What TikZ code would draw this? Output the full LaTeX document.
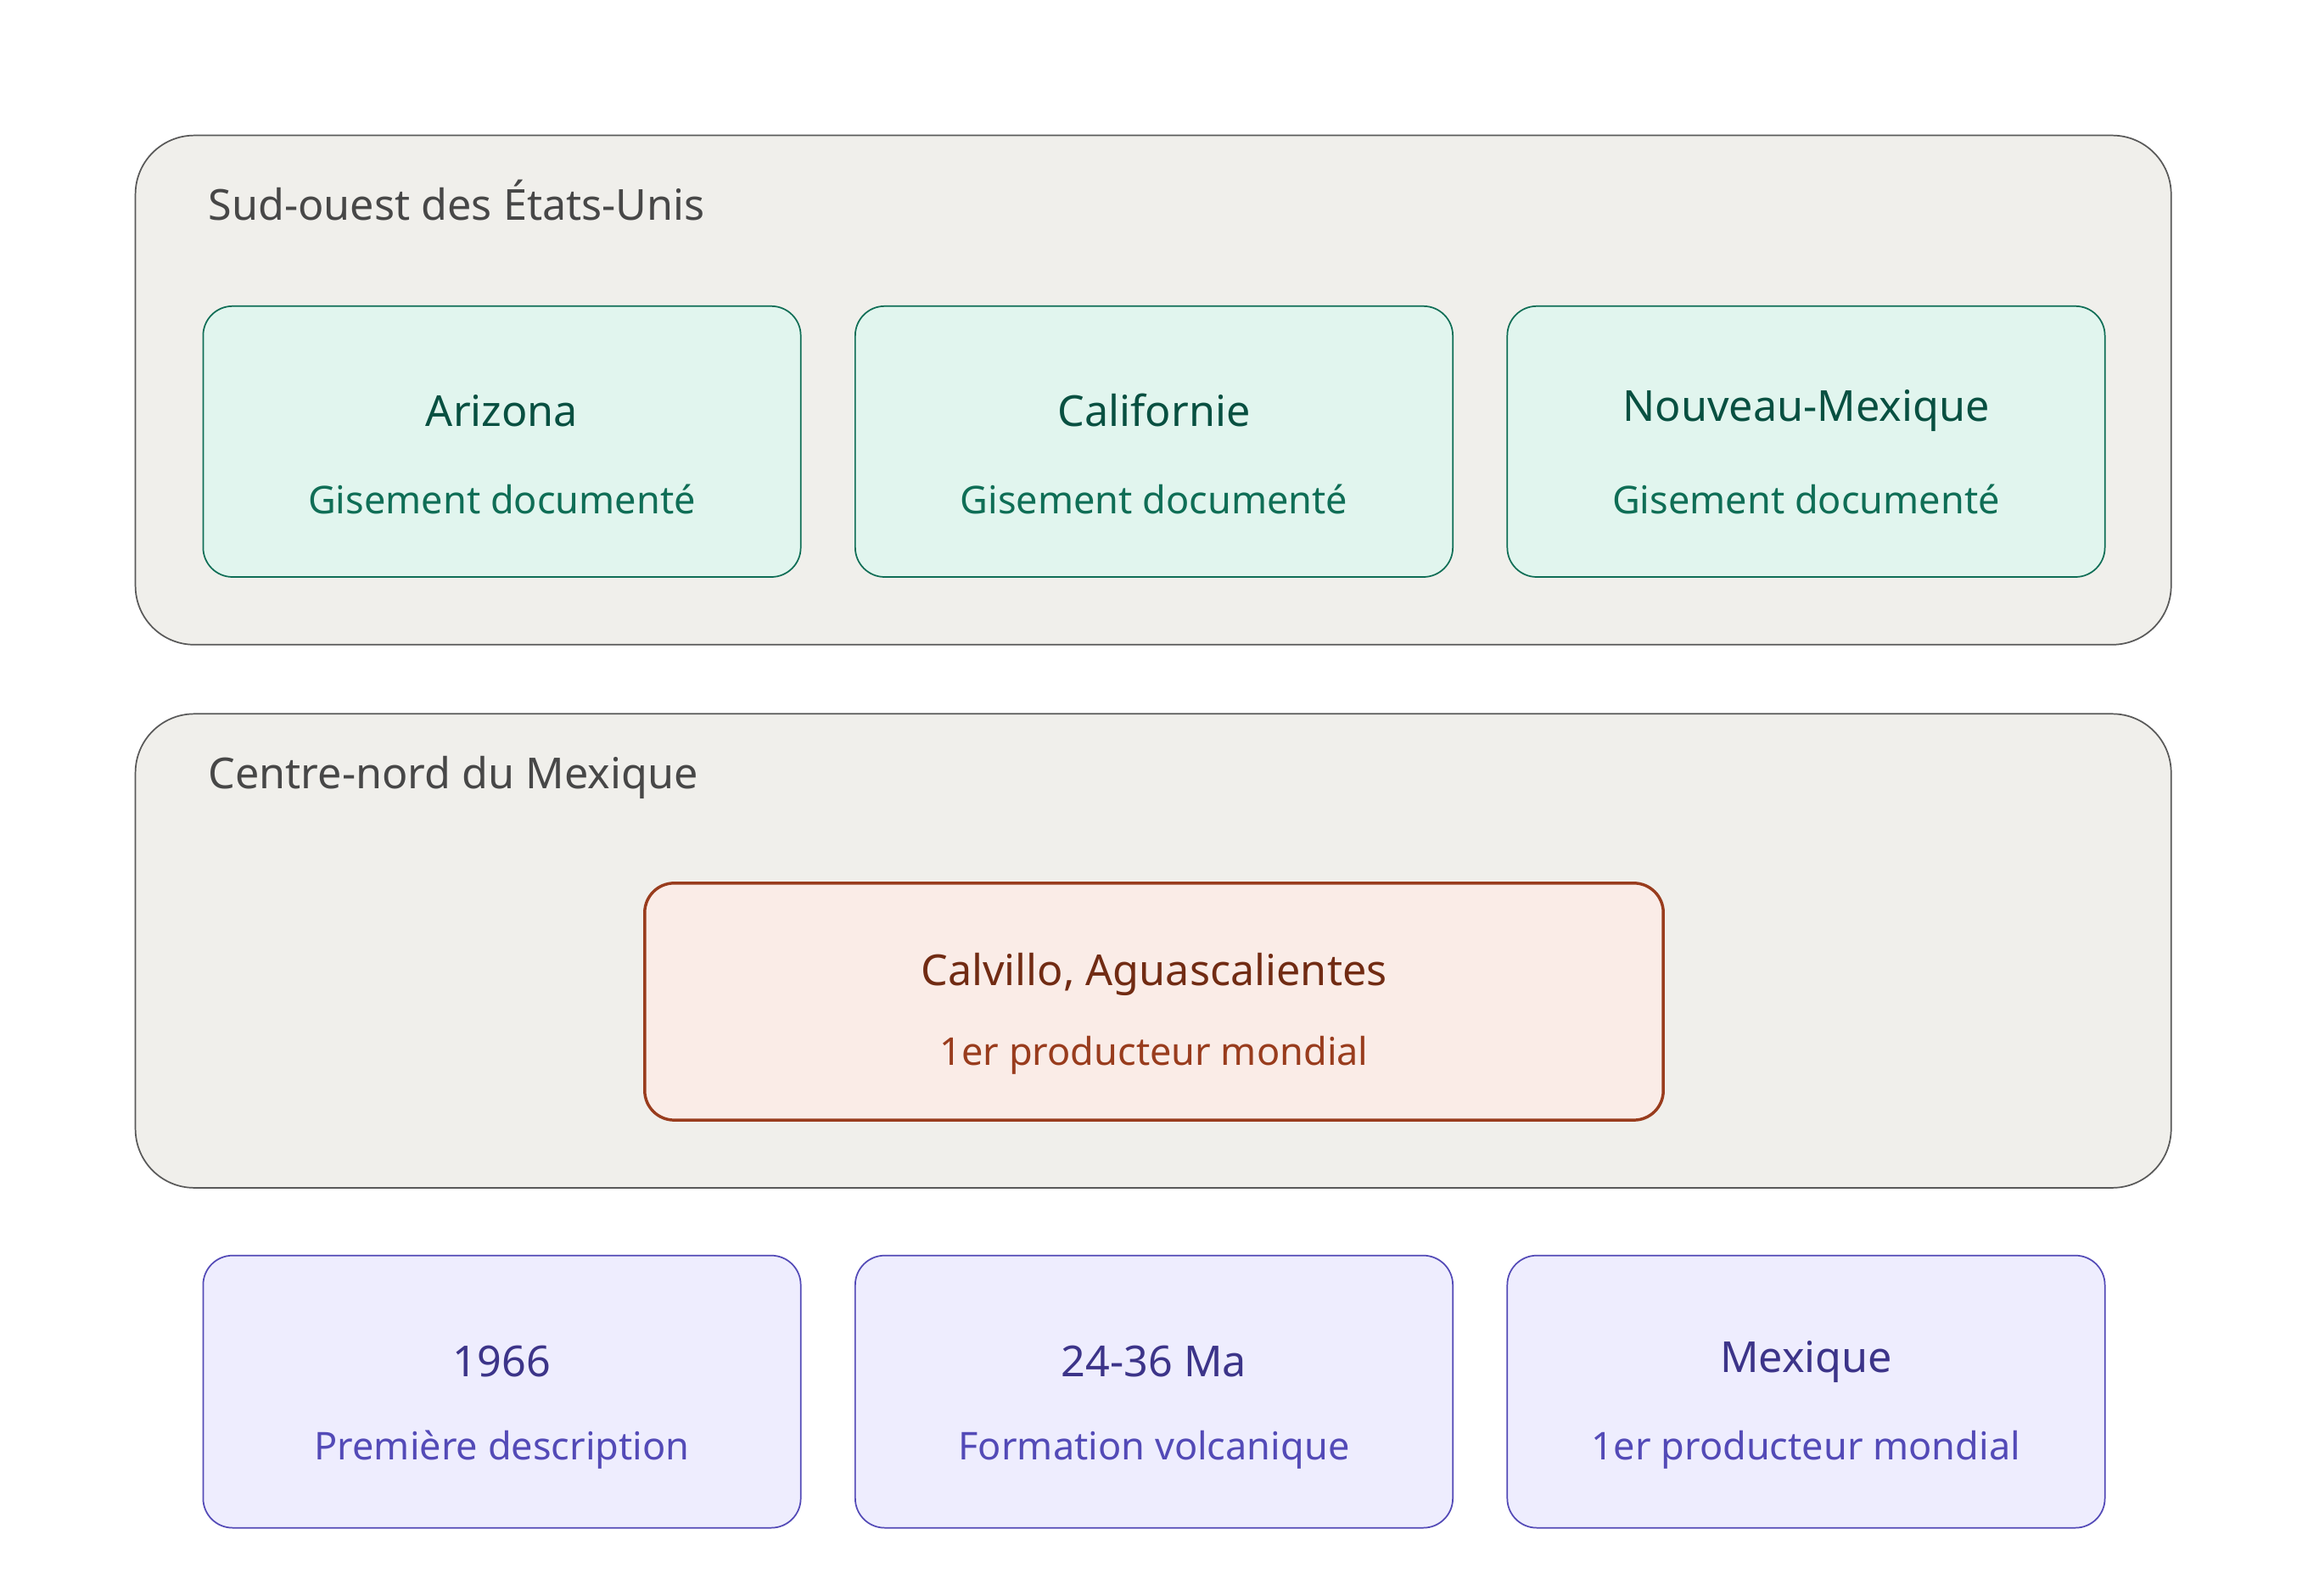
\documentclass[tikz,border=0pt]{standalone}
\usepackage{fontspec}
\setmainfont{Noto Sans}
\begin{document}
\begin{tikzpicture}[x=1pt,y=-1pt,
 zone/.style={draw=black!65,fill=zonefill,line width=1pt,rounded corners=40pt},
 zt/.style={anchor=west,text=black!72,font=\fontsize{29}{34}\selectfont\bfseries},
 gbox/.style={draw=gst,fill=gfill,line width=1pt,rounded corners=20pt},
 rbox/.style={draw=rst,fill=rfill,line width=2pt,rounded corners=20pt},
 pbox/.style={draw=pst,fill=pfill,line width=1pt,rounded corners=20pt},
 tt/.style={font=\fontsize{29}{34}\selectfont\bfseries},
 st/.style={font=\fontsize{26}{30}\selectfont}]
\definecolor{zonefill}{HTML}{F0EFEB}
\definecolor{gfill}{HTML}{E1F5EE}\definecolor{gst}{HTML}{0F6E56}\definecolor{gtt}{HTML}{085041}
\definecolor{rfill}{HTML}{FAECE7}\definecolor{rst}{HTML}{993C1D}\definecolor{rtt}{HTML}{712B13}
\definecolor{pfill}{HTML}{EEEDFE}\definecolor{pst}{HTML}{534AB7}\definecolor{ptt}{HTML}{3C3489}
\useasboundingbox[fill=white] (0,0) rectangle (1568,1084);
\draw[zone] (92,92) rectangle (1475,438);
\node[zt] (z1) at (138,136) {Sud-ouest des États-Unis};
\draw[zone] (92,485) rectangle (1475,807);
\node[zt] (z2) at (138,528) {Centre-nord du Mexique};
\foreach \x/\t/\n in {138/Arizona/a,581/Californie/b,1024/Nouveau-Mexique/c}{
 \draw[gbox] (\x,208) rectangle (\x+406,392);
 \node[tt,text=gtt] (g\n) at (\x+203,279) {\t};
 \node[st,text=gst] (gs\n) at (\x+203,339) {Gisement documenté};
}
\draw[rbox] (438,600) rectangle (1130,761);
\node[tt,text=rtt] (r) at (784,662) {Calvillo, Aguascalientes};
\node[st,text=rst] (rs) at (784,717) {1er producteur mondial};
\foreach \x/\t/\s/\n in {138/1966/Première description/a,581/24-36 Ma/Formation volcanique/b,1024/Mexique/1er producteur mondial/c}{
 \draw[pbox] (\x,853) rectangle (\x+406,1038);
 \node[tt,text=ptt] (p\n) at (\x+203,925) {\t};
 \node[st,text=pst] (ps\n) at (\x+203,985) {\s};
}
\end{tikzpicture}
\end{document}
